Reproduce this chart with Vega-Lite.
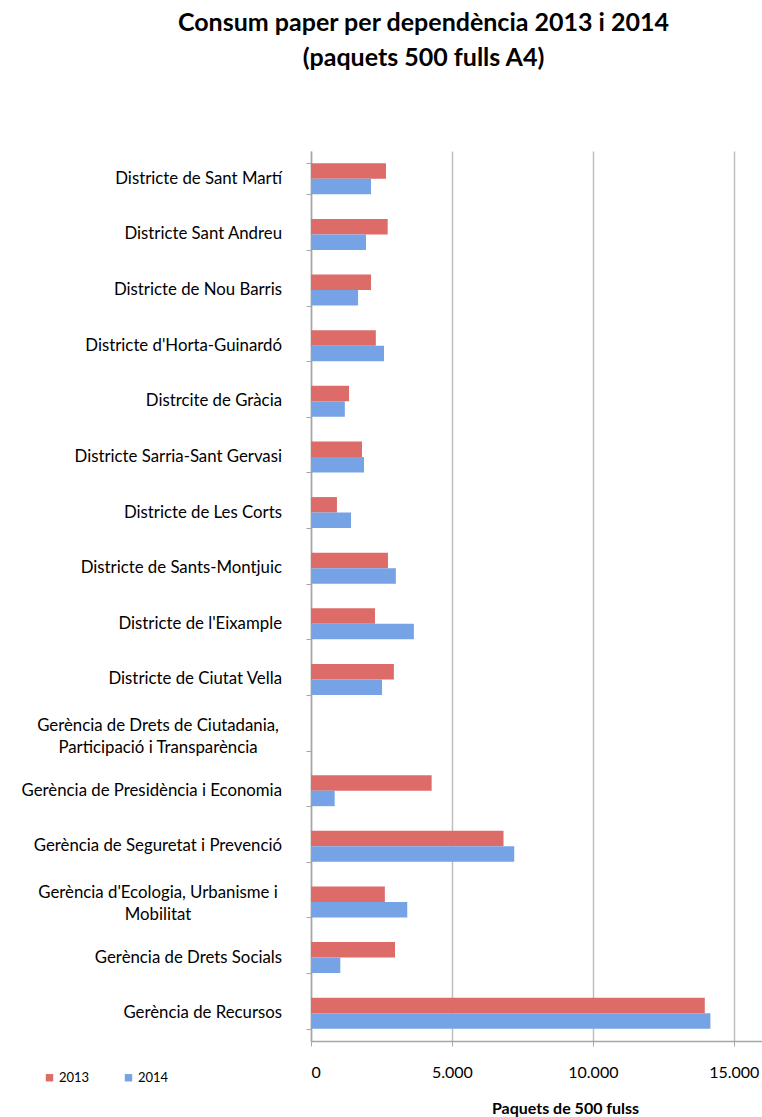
{
  "$schema": "https://vega.github.io/schema/vega-lite/v6.json",
  "autosize": "none",
  "width": 451,
  "height": 890,
  "padding": {"left": 311, "top": 151, "right": 0, "bottom": 76},
  "background": "white",
  "title": {
    "text": ["Consum paper per dependència 2013 i 2014", "(paquets 500 fulls A4)"],
    "font": "Lato",
    "fontSize": 25,
    "fontWeight": "bold",
    "lineHeight": 35,
    "color": "black",
    "anchor": "middle",
    "frame": "group",
    "dx": -113,
    "offset": 80
  },
  "data": {
    "values": [
      {"dep": "Districte de Sant Martí", "year": "2013", "value": 2660},
      {"dep": "Districte de Sant Martí", "year": "2014", "value": 2130},
      {"dep": "Districte Sant Andreu", "year": "2013", "value": 2720},
      {"dep": "Districte Sant Andreu", "year": "2014", "value": 1950},
      {"dep": "Districte de Nou Barris", "year": "2013", "value": 2130},
      {"dep": "Districte de Nou Barris", "year": "2014", "value": 1670},
      {"dep": "Districte d'Horta-Guinardó", "year": "2013", "value": 2300},
      {"dep": "Districte d'Horta-Guinardó", "year": "2014", "value": 2590},
      {"dep": "Distrcite de Gràcia", "year": "2013", "value": 1350},
      {"dep": "Distrcite de Gràcia", "year": "2014", "value": 1200},
      {"dep": "Districte Sarria-Sant Gervasi", "year": "2013", "value": 1810},
      {"dep": "Districte Sarria-Sant Gervasi", "year": "2014", "value": 1880},
      {"dep": "Districte de Les Corts", "year": "2013", "value": 920},
      {"dep": "Districte de Les Corts", "year": "2014", "value": 1420},
      {"dep": "Districte de Sants-Montjuic", "year": "2013", "value": 2730},
      {"dep": "Districte de Sants-Montjuic", "year": "2014", "value": 3010},
      {"dep": "Districte de l'Eixample", "year": "2013", "value": 2270},
      {"dep": "Districte de l'Eixample", "year": "2014", "value": 3650},
      {"dep": "Districte de Ciutat Vella", "year": "2013", "value": 2940},
      {"dep": "Districte de Ciutat Vella", "year": "2014", "value": 2520},
      {"dep": "Gerència de Drets de Ciutadania,|Participació i Transparència", "year": "2013", "value": 0},
      {"dep": "Gerència de Drets de Ciutadania,|Participació i Transparència", "year": "2014", "value": 0},
      {"dep": "Gerència de Presidència i Economia", "year": "2013", "value": 4280},
      {"dep": "Gerència de Presidència i Economia", "year": "2014", "value": 840},
      {"dep": "Gerència de Seguretat i Prevenció", "year": "2013", "value": 6830},
      {"dep": "Gerència de Seguretat i Prevenció", "year": "2014", "value": 7210},
      {"dep": "Gerència d'Ecologia, Urbanisme i|Mobilitat", "year": "2013", "value": 2620},
      {"dep": "Gerència d'Ecologia, Urbanisme i|Mobilitat", "year": "2014", "value": 3415},
      {"dep": "Gerència de Drets Socials", "year": "2013", "value": 2980},
      {"dep": "Gerència de Drets Socials", "year": "2014", "value": 1040},
      {"dep": "Gerència de Recursos", "year": "2013", "value": 13970},
      {"dep": "Gerència de Recursos", "year": "2014", "value": 14170}
    ]
  },
  "encoding": {
    "y": {
      "field": "dep",
      "type": "nominal",
      "sort": null,
      "scale": {
        "domain": [
          "Districte de Sant Martí", "Districte Sant Andreu", "Districte de Nou Barris",
          "Districte d'Horta-Guinardó", "Distrcite de Gràcia", "Districte Sarria-Sant Gervasi",
          "Districte de Les Corts", "Districte de Sants-Montjuic", "Districte de l'Eixample",
          "Districte de Ciutat Vella", "Gerència de Drets de Ciutadania,|Participació i Transparència",
          "Gerència de Presidència i Economia", "Gerència de Seguretat i Prevenció",
          "Gerència d'Ecologia, Urbanisme i|Mobilitat", "Gerència de Drets Socials", "Gerència de Recursos"
        ],
        "paddingInner": 0.443,
        "paddingOuter": 0.2215
      },
      "axis": {
        "title": null,
        "labels": false,
        "tickBand": "extent",
        "tickSize": 5,
        "tickColor": "#a6a6a6",
        "domainColor": "#a6a6a6",
        "domainWidth": 1.5,
        "grid": false
      }
    }
  },
  "layer": [
    {
      "mark": {"type": "bar", "stroke": null},
      "encoding": {
        "yOffset": {"field": "year", "type": "nominal"},
        "x": {
          "field": "value",
          "type": "quantitative",
          "scale": {"domain": [0, 16000], "nice": false},
          "axis": {
            "values": [0, 5000, 10000, 15000],
            "labelExpr": "replace(format(datum.value, ','), ',', '.')",
            "labelFont": "Lato",
            "labelFontSize": 16,
            "labelColor": "black",
            "labelPadding": 18,
            "tickSize": 5,
            "tickColor": "#a6a6a6",
            "domainColor": "#a6a6a6",
            "domainWidth": 1.5,
            "grid": true,
            "gridColor": "#bfbfbf",
            "gridWidth": 1.5,
            "title": "Paquets de 500 fulss",
            "titleFont": "Lato",
            "titleFontSize": 16,
            "titleFontWeight": "bold",
            "titleColor": "black",
            "titleX": 254,
            "titleY": 67,
            "titleBaseline": "middle",
            "titleAlign": "center"
          }
        },
        "color": {
          "field": "year",
          "type": "nominal",
          "scale": {"domain": ["2013", "2014"], "range": ["#dd6b68", "#76a3e5"]},
          "legend": {
            "title": null,
            "orient": "none",
            "direction": "horizontal",
            "legendX": -268,
            "legendY": 920,
            "symbolType": "square",
            "symbolSize": 55,
            "symbolStrokeWidth": 0,
            "labelFont": "Lato",
            "labelFontSize": 13,
            "labelColor": "black",
            "columnPadding": 32,
            "labelOffset": 3
          }
        }
      }
    },
    {
      "transform": [
        {"filter": "datum.year == '2013' && indexof(datum.dep, '|') < 0"}
      ],
      "mark": {"type": "text", "align": "right", "baseline": "middle", "dx": -29, "font": "Lato", "fontSize": 16.8, "color": "black"},
      "encoding": {
        "x": {"datum": 0, "type": "quantitative"},
        "text": {"field": "dep"}
      }
    },
    {
      "transform": [
        {"filter": "datum.year == '2013' && indexof(datum.dep, '|') >= 0"},
        {"calculate": "split(datum.dep, '|')", "as": "lines"}
      ],
      "mark": {"type": "text", "align": "center", "baseline": "middle", "dx": -153, "dy": -9, "lineHeight": 22, "font": "Lato", "fontSize": 16.8, "color": "black"},
      "encoding": {
        "x": {"datum": 0, "type": "quantitative"},
        "text": {"field": "lines"}
      }
    }
  ],
  "config": {"view": {"stroke": null}}
}
